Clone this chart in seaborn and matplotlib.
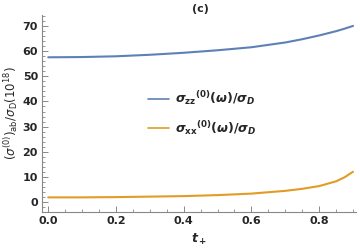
import numpy as np
import pandas as pd
import matplotlib
matplotlib.use("Agg")
import matplotlib.pyplot as plt
import seaborn as sns
from matplotlib.ticker import MultipleLocator

# values
t_plus = [0.0, 0.1, 0.2, 0.3, 0.4, 0.5, 0.6, 0.7, 0.75, 0.8, 0.85, 0.875, 0.9]
sigma_zz = [57.6, 57.7, 58.0, 58.6, 59.4, 60.4, 61.6, 63.5, 64.8, 66.3, 68.0, 69.0, 70.1]
sigma_xx = [1.8, 1.8, 1.9, 2.1, 2.3, 2.7, 3.3, 4.4, 5.2, 6.3, 8.2, 9.8, 12.0]
x_ticks = [0.0, 0.2, 0.4, 0.6, 0.8]
y_ticks = [0, 10, 20, 30, 40, 50, 60, 70]

sns.set_theme(style="ticks")
plt.rcParams['font.family'] = ['DejaVu Sans']
plt.rcParams['mathtext.fontset'] = 'custom'
plt.rcParams['mathtext.it'] = 'DejaVu Sans:italic:bold'
plt.rcParams['mathtext.rm'] = 'DejaVu Sans:bold'
plt.rcParams['mathtext.bf'] = 'DejaVu Sans:bold'
plt.rcParams['mathtext.sf'] = 'DejaVu Sans'
plt.rcParams['mathtext.tt'] = 'DejaVu Sans:italic'

df = pd.DataFrame({
    't': t_plus * 2,
    'value': sigma_zz + sigma_xx,
    'series': [r'$\sigma_{\mathrm{zz}}{}^{(0)}(\omega)/\sigma_D$'] * len(t_plus)
              + [r'$\sigma_{\mathrm{xx}}{}^{(0)}(\omega)/\sigma_D$'] * len(t_plus),
})

fig = plt.figure(figsize=(3.6, 2.52), dpi=100)
ax = fig.add_axes([0.117, 0.159, 0.873, 0.781])
sns.lineplot(data=df, x='t', y='value', hue='series', ax=ax,
             palette=['#5E81B5', '#E19C24'], linewidth=1.5)

ax.set_xlim(-0.018, 0.91)
ax.set_ylim(-4, 74.4)
ax.set_xticks(x_ticks)
ax.set_yticks(y_ticks)
ax.xaxis.set_minor_locator(MultipleLocator(0.05))
ax.yaxis.set_minor_locator(MultipleLocator(2))
ax.set_xticklabels([f'{v:.1f}' for v in x_ticks], fontsize=8, fontweight='bold')
ax.set_yticklabels([str(v) for v in y_ticks], fontsize=8, fontweight='bold')
ax.tick_params(which='major', direction='in', length=4, width=0.7, color='#888888', pad=3)
ax.tick_params(which='minor', direction='in', length=2, width=0.6, color='#888888')
for s in ['top', 'right']:
    ax.spines[s].set_visible(False)
for s in ['left', 'bottom']:
    ax.spines[s].set_color('#888888')
    ax.spines[s].set_linewidth(0.8)

ax.set_xlabel(r'$t_+$', fontsize=9, labelpad=4)
ax.set_ylabel(r'$\mathsf{(}\mathtt{\sigma}^{\mathsf{(0)}}\mathsf{)}_{\mathsf{ab}}\mathsf{/}'
              r'\mathtt{\sigma}_{\mathsf{D}}\mathsf{(10^{18})}$', fontsize=8.5, labelpad=2)
ax.set_title('(c)', fontsize=8, fontweight='bold', pad=2, x=0.505)

leg = ax.legend(loc='upper left', bbox_to_anchor=(0.3, 0.68), frameon=False,
                fontsize=9, handlelength=1.7, labelspacing=0.9, handletextpad=0.5)
for h in leg.get_lines():
    h.set_linewidth(1.2)

fig.savefig('out.png', dpi=100)
